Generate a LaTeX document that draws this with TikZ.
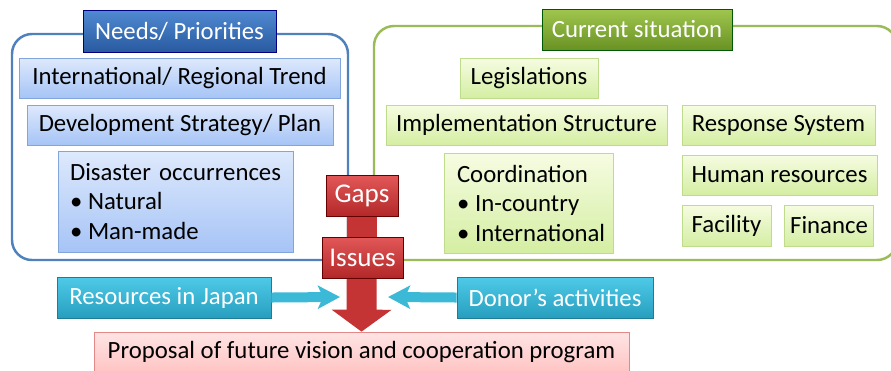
\documentclass[tikz,border=0pt]{standalone}
\usepackage{fontspec}
\setmainfont{Carlito}
\usepackage{tikz}
\usetikzlibrary{arrows.meta}
\definecolor{frameblue}{HTML}{4F81BD}
\definecolor{framegreen}{HTML}{9BBB59}
\newcommand{\boxfont}{\fontsize{14.1pt}{16.8pt}\selectfont}
\newcommand{\redfont}{\fontsize{15.4pt}{16.8pt}\selectfont}
\tikzstyle{needsframe} = [draw=frameblue, line width=1.4pt, rounded corners=0.4cm]
\tikzstyle{currentframe} = [draw=framegreen, line width=1.4pt, rounded corners=0.4cm]
\tikzstyle{bluetitle} = [rectangle, minimum height=0.84cm, text=white, font=\boxfont, draw=blue!50!black, top color={rgb,255:red,80;green,138;blue,210}, bottom color={rgb,255:red,40;green,90;blue,160}]
\tikzstyle{greentitle} = [rectangle, minimum height=0.82cm, text=white, font=\boxfont, draw=green!35!black, top color={rgb,255:red,160;green,198;blue,78}, bottom color={rgb,255:red,105;green,146;blue,36}]
\tikzstyle{needbox} = [rectangle, minimum height=0.8cm, font=\boxfont, draw={rgb,255:red,130;green,165;blue,220}, top color={rgb,255:red,222;green,233;blue,252}, bottom color={rgb,255:red,166;green,196;blue,246}]
\tikzstyle{sitbox} = [rectangle, minimum height=0.8cm, font=\boxfont, draw={rgb,255:red,190;green,220;blue,140}, top color={rgb,255:red,246;green,252;blue,226}, bottom color={rgb,255:red,212;green,238;blue,162}]
\tikzstyle{redbox} = [rectangle, minimum height=0.83cm, text=white, font=\redfont, draw=red!40!black, top color={rgb,255:red,226;green,88;blue,88}, bottom color={rgb,255:red,178;green,40;blue,40}]
\tikzstyle{cyanbox} = [rectangle, minimum height=0.82cm, text=white, font=\boxfont, draw={rgb,255:red,30;green,125;blue,150}, top color={rgb,255:red,78;green,202;blue,232}, bottom color={rgb,255:red,40;green,158;blue,190}]
\tikzstyle{pinkbox} = [rectangle, minimum height=0.8cm, font=\boxfont, draw={rgb,255:red,228;green,135;blue,135}, top color={rgb,255:red,255;green,228;blue,228}, bottom color={rgb,255:red,255;green,196;blue,196}]
\tikzstyle{redarrow} = [line width=0.6cm, color={rgb,255:red,196;green,52;blue,52}, -{Triangle[width=1.18cm,length=0.44cm]}]
\tikzstyle{cyanarrow} = [line width=0.2cm, color={rgb,255:red,60;green,185;blue,215}, -{Stealth[width=0.46cm,length=0.44cm,inset=0.1cm]}]
\newcommand{\bul}{\makebox[0.36cm][l]{\textbullet}}

\begin{document}
\begin{tikzpicture}[x=0.02cm, y=-0.02cm]
\clip (0,0) rectangle (891,370);
\fill[white] (0,0) rectangle (891,370);
% frames
\draw [needsframe] (12,34) rectangle (348,260);
\draw [currentframe] (374,26) rectangle (897,260);

% needs / priorities
\node (needs) [bluetitle, minimum width=3.86cm] at (179.5,31) {Needs/ Priorities};
\node (trend) [needbox, minimum width=6.42cm] at (179.5,78) {International/ Regional Trend};
\node (strategy) [needbox, minimum width=6.12cm] at (180,125) {Development Strategy/ Plan};
\node (disaster) [needbox, minimum height=2.02cm, inner xsep=0.24cm, text width=4.22cm, align=left] at (175.5,201.5) {Disaster occurrences\\
\bul Natural\\
\bul Man-made};

% current situation
\node (current) [greentitle, minimum width=3.8cm] at (637,29.5) {Current situation};
\node (legis) [sitbox, minimum width=2.76cm] at (529,78) {Legislations};
\node (impl) [sitbox, minimum width=5.62cm] at (526.5,125) {Implementation Structure};
\node (coord) [sitbox, minimum height=2cm, inner xsep=0.26cm, text width=2.86cm, align=left] at (528.5,203) {Coordination\\
\bul In-country\\
\bul International};
\node (response) [sitbox, minimum width=3.86cm] at (778.5,125) {Response System};
\node (human) [sitbox, minimum width=3.9cm] at (779.5,175) {Human resources};
\node (facility) [sitbox, minimum width=1.78cm, minimum height=0.82cm] at (726.5,225.5) {Facility};
\node (finance) [sitbox, minimum width=1.76cm, minimum height=0.82cm] at (829,225.5) {Finance};

% result
\node (proposal) [pinkbox, minimum width=10.7cm] at (361.5,352) {Proposal of future vision and cooperation program};
\node (gaps) [redbox, minimum width=1.44cm] at (362,196) {};
\draw [redarrow] (gaps.center) -- (proposal.north);
\node [redbox, minimum width=1.44cm] at (gaps) {Gaps};
\node (issues) [redbox, minimum width=1.62cm, minimum height=0.82cm] at (362.5,257.5) {Issues};

% inputs
\node (resj) [cyanbox, minimum width=4.28cm] at (164,297.5) {Resources in Japan};
\node (donor) [cyanbox, minimum width=3.92cm] at (555,297.5) {Donor’s activities};
\coordinate (jin) at (340,297);
\coordinate (donin) at (388,297);
\draw [cyanarrow] (resj.east) -- (jin);
\draw [cyanarrow] (donor.west) -- (donin);
\end{tikzpicture}
\end{document}
